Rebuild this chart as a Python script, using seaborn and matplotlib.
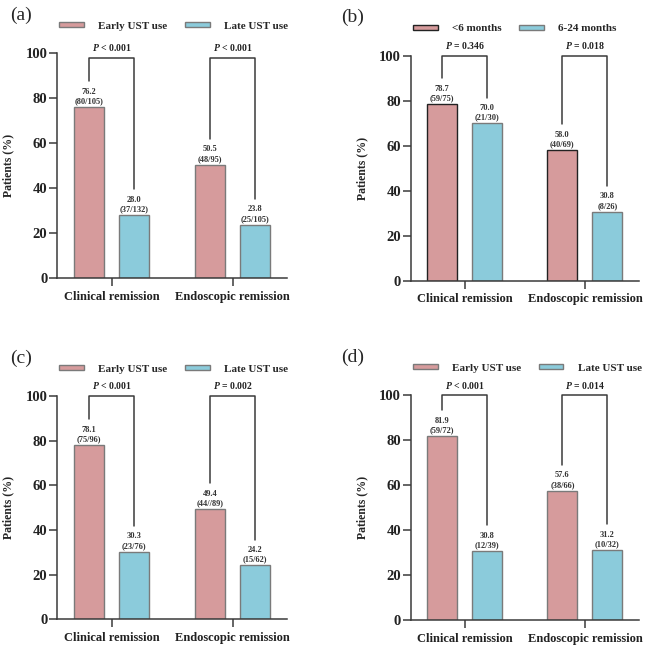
import matplotlib
matplotlib.use("Agg")
import matplotlib.pyplot as plt
import seaborn as sns
import pandas as pd

outcomes = ["Clinical remission", "Endoscopic remission"]

# panel (a)
a_groups = ["Early UST use", "Late UST use"]
a_first = [76.2, 50.5]
a_second = [28.0, 23.8]
a_first_n = ["80/105", "48/95"]
a_second_n = ["37/132", "25/105"]
a_p = ["< 0.001", "< 0.001"]

# panel (b)
b_groups = ["<6 months", "6-24 months"]
b_first = [78.7, 58.0]
b_second = [70.0, 30.8]
b_first_n = ["59/75", "40/69"]
b_second_n = ["21/30", "8/26"]
b_p = ["= 0.346", "= 0.018"]

# panel (c)
c_groups = ["Early UST use", "Late UST use"]
c_first = [78.1, 49.4]
c_second = [30.3, 24.2]
c_first_n = ["75/96", "44//89"]
c_second_n = ["23/76", "15/62"]
c_p = ["< 0.001", "= 0.002"]

# panel (d)
d_groups = ["Early UST use", "Late UST use"]
d_first = [81.9, 57.6]
d_second = [30.8, 31.2]
d_first_n = ["59/72", "38/66"]
d_second_n = ["12/39", "10/32"]
d_p = ["< 0.001", "= 0.014"]

RED = "#D69B9C"
BLUE = "#8BCBDB"
LINE = "#3a3a3a"

sns.set_theme(style="ticks")
plt.rcParams["font.family"] = ["Liberation Serif", "DejaVu Serif"]
plt.rcParams["font.weight"] = "bold"
plt.rcParams["mathtext.fontset"] = "custom"
plt.rcParams["mathtext.it"] = "Liberation Serif:italic:bold"
plt.rcParams["mathtext.rm"] = "Liberation Serif:bold"


def draw(ax, groups, first, second, first_n, second_n, pvals, edges, top):
    df = pd.DataFrame({
        "outcome": outcomes * 2,
        "group": [groups[0]] * 2 + [groups[1]] * 2,
        "pct": first + second,
    })
    sns.barplot(data=df, x="outcome", y="pct", hue="group", palette=[RED, BLUE],
                saturation=1, width=0.75, gap=0.33, linewidth=1.0, errorbar=None,
                legend=False, ax=ax)
    for cont, ec, ns in zip(ax.containers, edges, [first_n, second_n]):
        for bar, n in zip(cont, ns):
            bar.set_edgecolor(ec)
            x = bar.get_x() + bar.get_width() / 2
            h = bar.get_height()
            ax.text(x, h + 0.8, f"{h:.1f}\n({n})", ha="center", va="bottom",
                    fontsize=6, linespacing=1.25, color="#333333")

    # significance brackets
    for i, p in enumerate(pvals):
        b1 = ax.containers[0][i]
        b2 = ax.containers[1][i]
        x1 = b1.get_x() + b1.get_width() / 2
        x2 = b2.get_x() + b2.get_width() / 2
        ax.plot([x1, x1, x2, x2],
                [b1.get_height() + 11.5, top, top, b2.get_height() + 11.5],
                color=LINE, lw=1.1, clip_on=False)
        ax.text((x1 + x2) / 2, top + 4.5, f"$P$ {p}", ha="center", va="center",
                fontsize=7, color="#222222")

    ax.set_xlim(-0.45, 1.45)
    ax.set_ylim(0, 100)
    ax.set_yticks(range(0, 101, 20))
    ax.set_xlabel("")
    ax.set_ylabel("Patients (%)", fontsize=8.5, fontweight="bold", labelpad=8)
    sns.despine(ax=ax)
    for s in ["left", "bottom"]:
        ax.spines[s].set_color(LINE)
        ax.spines[s].set_linewidth(1.1)
    ax.tick_params(axis="y", width=1.1, length=6, color=LINE, labelsize=10.5,
                   labelcolor="#222222", pad=1)
    ax.tick_params(axis="x", width=1.1, length=6, color=LINE, labelsize=9,
                   labelcolor="#222222", pad=3)
    for lab in ax.get_xticklabels() + ax.get_yticklabels():
        lab.set_fontweight("bold")

    ax.legend(handles=ax.containers, labels=groups, loc="center left",
              bbox_to_anchor=(0.01, 1.12), ncol=2, frameon=False,
              handlelength=2.2, handleheight=0.35, handletextpad=1.3,
              columnspacing=1.6, borderaxespad=0, borderpad=0,
              prop={"size": 8, "weight": "bold"})


fig = plt.figure(figsize=(6.48, 6.5), dpi=100)
ax_a = fig.add_axes([0.088, 0.572, 0.355, 0.346])
ax_b = fig.add_axes([0.634, 0.568, 0.352, 0.346])
ax_c = fig.add_axes([0.088, 0.047, 0.355, 0.344])
ax_d = fig.add_axes([0.634, 0.046, 0.352, 0.346])

draw(ax_a, a_groups, a_first, a_second, a_first_n, a_second_n, a_p,
     ["#7a7a7a", "#7a7a7a"], 98)
draw(ax_b, b_groups, b_first, b_second, b_first_n, b_second_n, b_p,
     ["#222222", "#7a7a7a"], 100)
draw(ax_c, c_groups, c_first, c_second, c_first_n, c_second_n, c_p,
     ["#7a7a7a", "#7a7a7a"], 100)
draw(ax_d, d_groups, d_first, d_second, d_first_n, d_second_n, d_p,
     ["#7a7a7a", "#7a7a7a"], 100)

for lbl, x, y in [("(a)", 0.015, 0.976), ("(b)", 0.526, 0.974),
                  ("(c)", 0.015, 0.449), ("(d)", 0.526, 0.451)]:
    fig.text(x, y, lbl, fontsize=14, fontweight="normal", va="center", ha="left")

fig.savefig("out.png", dpi=100)
